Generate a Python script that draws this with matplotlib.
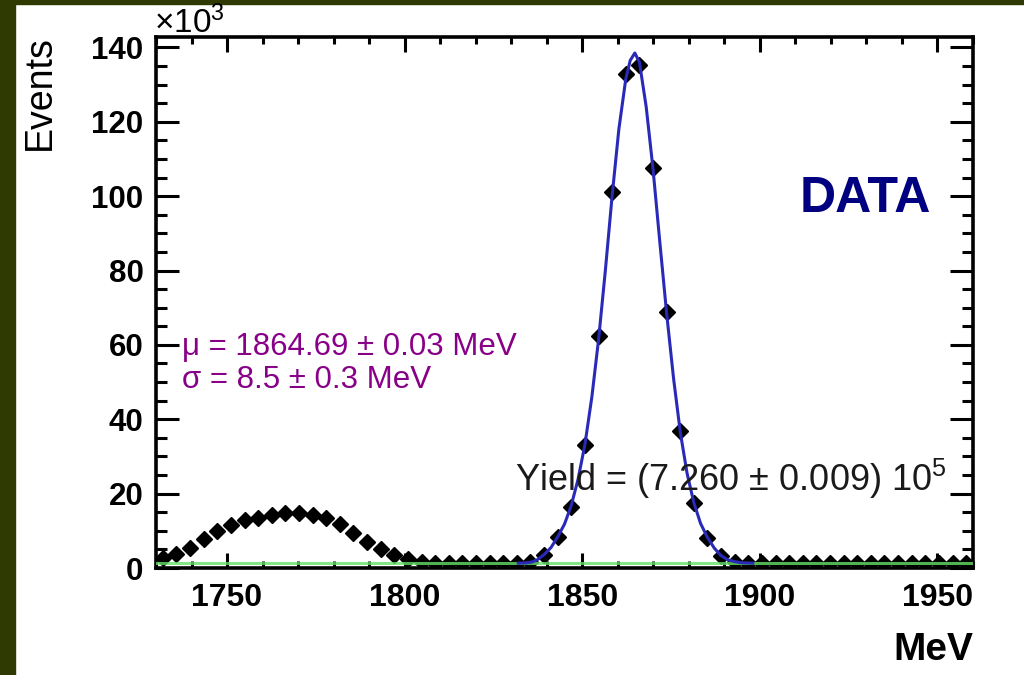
import numpy as np
import matplotlib
matplotlib.use("Agg")
import matplotlib.pyplot as plt
from matplotlib.patches import Rectangle
from matplotlib.ticker import MultipleLocator

plt.rcParams['font.family'] = ['Liberation Sans', 'DejaVu Sans']
plt.rcParams['mathtext.fontset'] = 'custom'
plt.rcParams['mathtext.rm'] = 'Liberation Sans'
plt.rcParams['mathtext.it'] = 'Liberation Sans:italic'
plt.rcParams['mathtext.bf'] = 'Liberation Sans:bold'

# ---------------- data (events in units of 10^3) ----------------
bin_lo, bin_hi = 1730.0, 1960.0
counts_k = [2.8, 3.7, 5.5, 7.9, 10.0, 11.5, 12.8, 13.5, 14.3, 14.7,
            14.9, 14.3, 13.4, 11.8, 9.5, 7.1, 5.0, 3.5, 2.5, 1.6,
            1.4, 1.3, 1.3, 1.3, 1.3, 1.3, 1.4, 1.6, 3.5, 8.3,
            16.4, 33.0, 62.4, 101.2, 132.8, 135.2, 107.6, 68.8, 36.8, 17.6,
            8.2, 3.2, 1.6, 1.4, 1.3, 1.3, 1.4, 1.3, 1.3, 1.3,
            1.4, 1.3, 1.3, 1.3, 1.3, 1.4, 1.3, 1.3, 1.3, 1.3]

fit_x = [1832.0, 1833.9, 1835.8, 1837.3, 1839.25, 1841.2, 1843.1, 1845.0,
         1846.9, 1848.8, 1850.75, 1852.7, 1854.6, 1856.5, 1858.4, 1860.3,
         1862.25, 1863.5, 1864.8, 1866.1, 1868.0, 1869.9, 1871.8, 1873.75,
         1875.7, 1877.6, 1879.5, 1881.4, 1883.3, 1885.25, 1887.2, 1889.1,
         1891.0, 1893.0, 1895.0, 1898.0]
fit_y = [1.3, 1.35, 1.6, 2.2, 3.6, 5.5, 8.4, 11.8,
         16.8, 23.8, 33.2, 46.0, 61.5, 80.0, 100.0, 118.0,
         131.5, 136.5, 138.5, 136.0, 124.0, 107.5, 88.0, 68.5,
         51.0, 36.5, 25.5, 17.6, 12.0, 8.2, 5.3, 3.3,
         2.2, 1.7, 1.4, 1.3]

bkg_level_k = 1.3

xticks = [1750, 1800, 1850, 1900, 1950]
yticks = [0, 20, 40, 60, 80, 100, 120, 140]

# ---------------- figure ----------------
W, H = 1024, 675
fig = plt.figure(figsize=(W / 100, H / 100), dpi=100, facecolor='white')

def fx(px):
    return px / W

def fy(py):
    return 1 - py / H

border = '#2f3a03'
fig.patches.append(Rectangle((0, 0), fx(15), 1, transform=fig.transFigure,
                             color=border, zorder=0))
fig.patches.append(Rectangle((0, fy(4)), 1, 1 - fy(4), transform=fig.transFigure,
                             color=border, zorder=0))

ax = fig.add_axes([fx(156), fy(568), fx(973) - fx(156), fy(37) - fy(568)])

nb = len(counts_k)
edges = np.linspace(bin_lo, bin_hi, nb + 1)
centers = 0.5 * (edges[:-1] + edges[1:])
halfw = 0.5 * (edges[1] - edges[0])

ax.errorbar(centers, counts_k, xerr=halfw, fmt='D', color='black',
            ms=8, elinewidth=2.5, capsize=0, zorder=3)
ax.axhline(bkg_level_k, color='#66e066', lw=2.2, alpha=0.8, zorder=4)
ax.plot(fit_x, fit_y, color='#2a2ab8', lw=2.2, zorder=5)

ax.set_xlim(bin_lo, bin_hi)
ax.set_ylim(0, 142.8)
ax.set_xticks(xticks)
ax.set_yticks(yticks)
ax.xaxis.set_minor_locator(MultipleLocator(10))
ax.yaxis.set_minor_locator(MultipleLocator(5))

for s in ax.spines.values():
    s.set_linewidth(2.6)

ax.tick_params(axis='both', which='both', direction='in', top=True, right=True,
               width=2.2)
ax.tick_params(axis='y', which='major', length=16.5, pad=9, labelsize=22.5)
ax.tick_params(axis='y', which='minor', length=8)
ax.tick_params(axis='x', which='major', length=11, pad=11, labelsize=23)
ax.tick_params(axis='x', which='minor', length=5)
for lab in ax.get_xticklabels() + ax.get_yticklabels():
    lab.set_fontweight('bold')

# ---------------- texts ----------------
fig.text(fx(40), fy(35), 'Events', rotation=90, fontsize=27,
         ha='center', va='top')
fig.text(fx(154), fy(33), '×10$^{3}$', fontsize=24, ha='left', va='baseline')
fig.text(fx(973), fy(660), 'MeV', fontsize=28, fontweight='bold',
         ha='right', va='baseline')
fig.text(fx(182), fy(355), 'μ = 1864.69 ± 0.03 MeV', fontsize=22.5,
         color='#880088', ha='left', va='baseline')
fig.text(fx(182), fy(388), 'σ = 8.5 ± 0.3 MeV', fontsize=22.5,
         color='#880088', ha='left', va='baseline')
fig.text(fx(515), fy(491), 'Yield = (7.260 ± 0.009) 10$^{5}$', fontsize=26,
         color='#1a1a1a', ha='left', va='baseline')
fig.text(fx(800), fy(212), 'DATA', fontsize=36, fontweight='bold',
         color='#000080', ha='left', va='baseline')

fig.savefig('out.png', dpi=100, facecolor='white')
